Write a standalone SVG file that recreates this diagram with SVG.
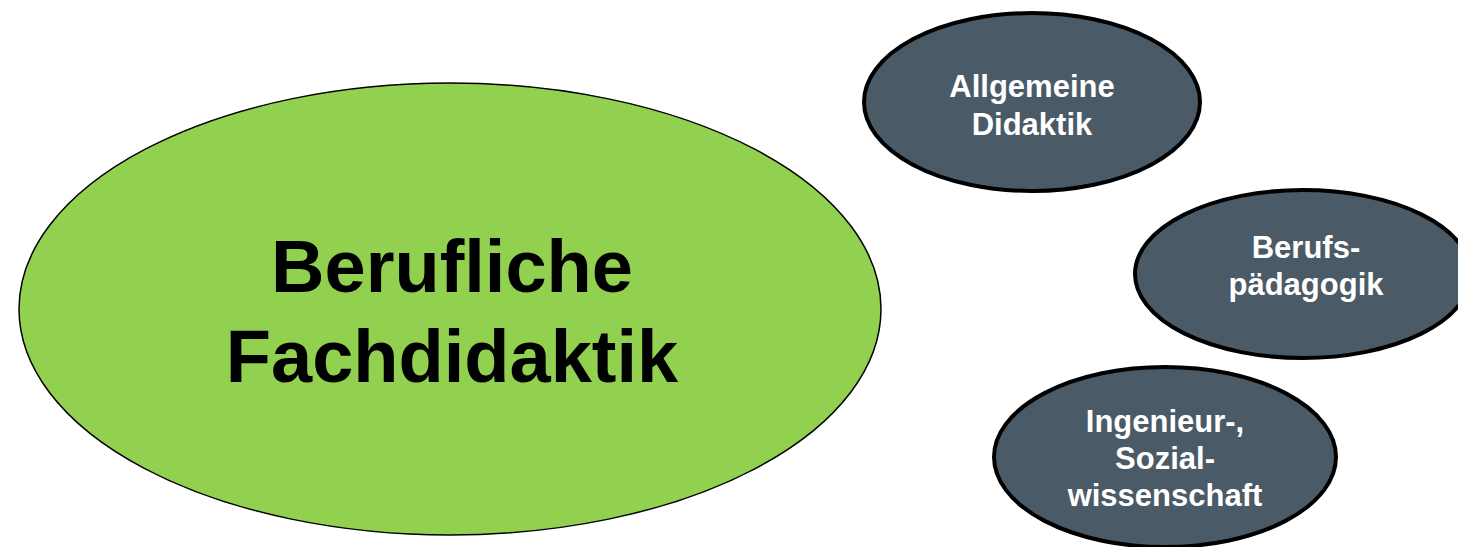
<svg xmlns="http://www.w3.org/2000/svg" width="1458" height="547" viewBox="0 0 1458 547">
<style>
.main{fill:#92D050;stroke:#000;stroke-width:1.5}
.sub{fill:#4A5A66;stroke:#000;stroke-width:4}
.t1{font-family:"Liberation Sans",Arial,sans-serif;font-weight:bold;font-size:74px;fill:#000;text-anchor:middle}
.t2{font-family:"Liberation Sans",Arial,sans-serif;font-weight:bold;font-size:31px;fill:#fff;text-anchor:middle}
</style>
<rect width="1458" height="547" fill="#fff"/>
<g id="connectors"></g>
<g id="node-berufliche-fachdidaktik">
<ellipse class="main" cx="450" cy="309" rx="431" ry="226"/>
<text class="t1" x="452" y="292">Berufliche</text>
<text class="t1" x="452" y="382">Fachdidaktik</text>
</g>
<g id="node-allgemeine-didaktik">
<ellipse class="sub" cx="1032" cy="102" rx="168" ry="89"/>
<text class="t2" x="1032" y="97">Allgemeine</text>
<text class="t2" x="1032" y="135">Didaktik</text>
</g>
<g id="node-berufspaedagogik">
<ellipse class="sub" cx="1303" cy="274" rx="168" ry="84"/>
<text class="t2" x="1306" y="258">Berufs-</text>
<text class="t2" x="1306" y="295">pädagogik</text>
</g>
<g id="node-ingenieur-sozialwissenschaft">
<ellipse class="sub" cx="1165" cy="457" rx="171" ry="90"/>
<text class="t2" x="1165" y="432">Ingenieur-,</text>
<text class="t2" x="1165" y="469">Sozial-</text>
<text class="t2" x="1165" y="506">wissenschaft</text>
</g>
</svg>
